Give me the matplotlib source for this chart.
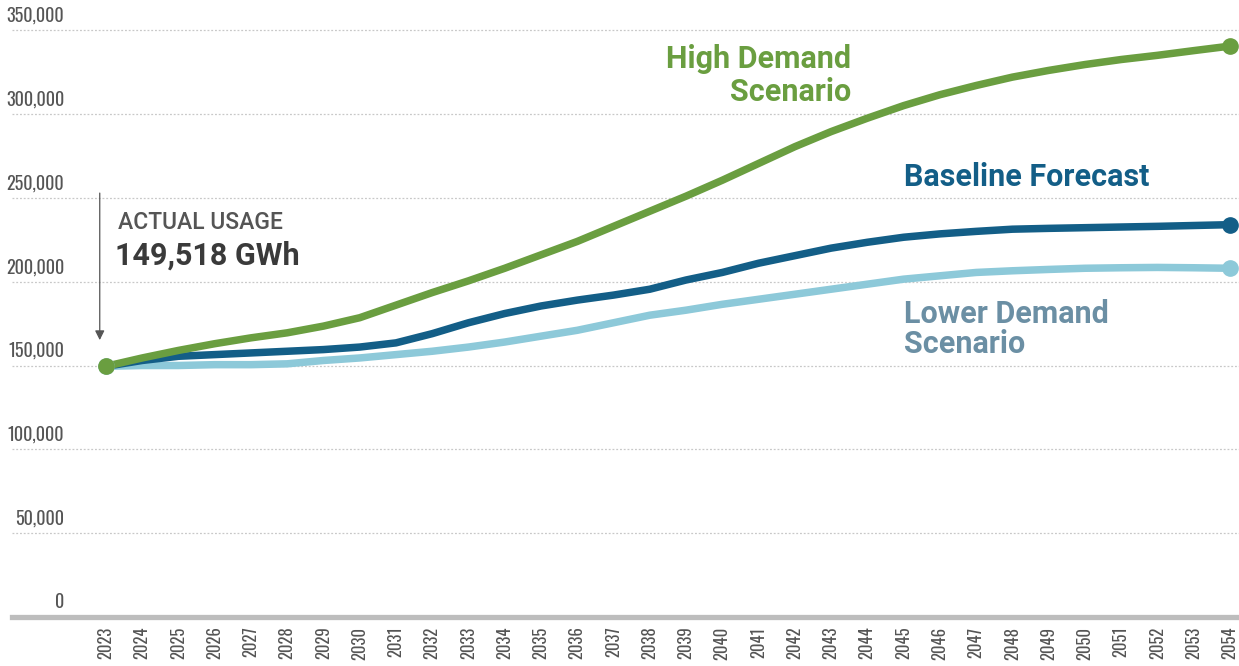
import matplotlib.pyplot as plt

years = list(range(2023, 2055))

# GWh
high = [149518, 154500, 159000, 163000, 166500, 169500, 173500, 178500,
        186000, 193500, 200500, 208000, 216000, 224000, 233000, 242000,
        251000, 260500, 270500, 280500, 289500, 297500, 305000, 311500,
        317000, 322000, 326000, 329500, 332500, 335000, 337800, 340500]
baseline = [149518, 153000, 155500, 156500, 157500, 158500, 159500, 161000,
            163500, 169000, 175500, 181000, 185500, 189000, 192000, 195500,
            201000, 205500, 211000, 215500, 220000, 223500, 226500, 228500,
            230000, 231300, 231800, 232200, 232600, 233000, 233500, 234000]
lower = [149518, 150000, 150000, 150500, 150500, 151000, 153000, 154500,
         156500, 158500, 161000, 164000, 167500, 171000, 175500, 180000,
         183000, 186500, 189500, 192500, 195500, 198500, 201500, 203500,
         205500, 206500, 207300, 208000, 208300, 208500, 208300, 208000]

yticks = [0, 50000, 100000, 150000, 200000, 250000, 300000, 350000]
ytick_labels = ['0', '50,000', '100,000', '150,000', '200,000', '250,000',
                '300,000', '350,000']

green = '#6a9e40'
dark_blue = '#135e87'
light_blue = '#8dc9d9'
lower_text = '#6b8fa4'

narrow = ['Oswald', 'Roboto Condensed', 'DejaVu Sans']
bold_font = ['Roboto', 'DejaVu Sans']

fig = plt.figure(figsize=(12.39, 6.66), dpi=100)
ax = fig.add_axes([12/1239, 49/666, 1 - 12/1239, 1 - 49/666])

ax.set_xlim(2020.41, 2054.25)
ax.set_ylim(0, 368000)

# dotted gridlines
for v in yticks[1:]:
    ax.axhline(v, color='#c8c8c8', lw=0.9, ls=(0, (1.5, 1.5)), zorder=0)

for s in ['top', 'right', 'left']:
    ax.spines[s].set_visible(False)
ax.spines['bottom'].set_color('#bdbdbd')
ax.spines['bottom'].set_linewidth(3.8)

ax.set_yticks([])
ax.set_xticks(years)
ax.set_xticklabels([str(y) for y in years], rotation=90, family=narrow,
                   fontsize=12, fontweight='light', color='#555555')
ax.tick_params(axis='x', length=0, pad=7)

for v, lab in zip(yticks, ytick_labels):
    ax.annotate(lab, xy=(0.0424, v), xycoords=ax.get_yaxis_transform(),
                xytext=(0, 4), textcoords='offset points', ha='right',
                va='bottom', family=narrow, fontsize=13, fontweight='light',
                color='#555555')

ax.plot(years, lower, color=light_blue, lw=5.4, solid_capstyle='round', zorder=2)
ax.plot(years, baseline, color=dark_blue, lw=5.4, solid_capstyle='round', zorder=3)
ax.plot(years, high, color=green, lw=5.4, solid_capstyle='round', zorder=4)

ms = 11
ax.plot(years[-1], lower[-1], 'o', color=light_blue, ms=ms, zorder=5)
ax.plot(years[-1], baseline[-1], 'o', color=dark_blue, ms=ms, zorder=5)
ax.plot(years[-1], high[-1], 'o', color=green, ms=ms, zorder=5)
ax.plot(years[0], lower[0], 'o', color=light_blue, ms=ms, zorder=5)
ax.plot(years[0], high[0], 'o', color=green, ms=ms, zorder=6)

# series labels
ax.text(2043.55, 323000, 'High Demand\nScenario', ha='right', va='center',
        family=bold_font, fontweight='bold', fontsize=22, color=green,
        linespacing=1.1)
ax.text(2045.0, 262500, 'Baseline Forecast', ha='left', va='center',
        family=bold_font, fontweight='bold', fontsize=22, color=dark_blue)
ax.text(2045.0, 172000, 'Lower Demand\nScenario', ha='left', va='center',
        family=bold_font, fontweight='bold', fontsize=22, color=lower_text,
        linespacing=1.0)

# actual usage callout
ax.annotate('', xy=(2022.83, 163500), xytext=(2022.83, 254500),
            arrowprops=dict(arrowstyle='-|>', color='#555555', lw=0.9,
                            mutation_scale=14))
ax.text(2023.33, 235000, 'ACTUAL USAGE', ha='left', va='center',
        family=bold_font, fontweight='medium', fontsize=16.5, color='#555555')
ax.text(2023.25, 215500, '149,518 GWh', ha='left', va='center',
        family=bold_font, fontweight='bold', fontsize=22, color='#3a3a3a')

fig.savefig('out.png', dpi=100)
